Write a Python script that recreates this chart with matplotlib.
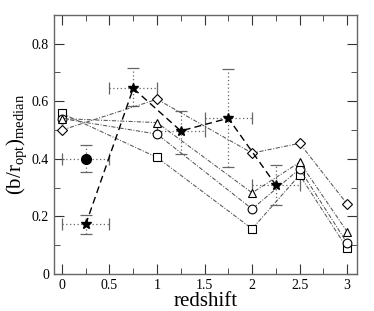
import matplotlib
matplotlib.use('Agg')
import matplotlib.pyplot as plt
import numpy as np

plt.rcParams['font.family'] = 'serif'
plt.rcParams['font.serif'] = ['Liberation Serif', 'DejaVu Serif']
plt.rcParams['mathtext.fontset'] = 'custom'
plt.rcParams['mathtext.rm'] = 'Liberation Serif'
plt.rcParams['mathtext.it'] = 'Liberation Serif:italic'

# model series at integer-ish redshifts
z_mod = [0, 1, 2, 2.5, 3]
sq = [0.558, 0.405, 0.157, 0.344, 0.089]
circ = [0.540, 0.486, 0.226, 0.365, 0.107]
tri = [0.540, 0.526, 0.282, 0.388, 0.147]
diam = [0.500, 0.607, 0.420, 0.454, 0.243]

# observed points (stars) with errors
z_obs = [0.25, 0.75, 1.25, 1.75, 2.25]
b_obs = [0.172, 0.645, 0.497, 0.541, 0.309]
xerr_obs = [0.25, 0.25, 0.25, 0.25, 0.25]
yerr_lo = [0.033, 0.063, 0.08, 0.17, 0.07]
yerr_hi = [0.033, 0.07, 0.07, 0.17, 0.07]

# single filled point
z_pt = [0.25]
b_pt = [0.40]
xerr_pt = [0.25]
yerr_pt = [0.047]

fig = plt.figure(figsize=(3.74, 3.11), dpi=100)
ax = fig.add_axes([0.144, 0.119, 0.811, 0.833])

ls_dd = (0, (4, 1.5, 1, 1.5))
lc = '#555555'
for ys, m in [(sq, 's'), (circ, 'o'), (tri, '^'), (diam, 'D')]:
    ms = 5 if m == 'D' else 6.3
    ax.plot(z_mod, ys, linestyle=ls_dd, color=lc, lw=0.75, marker=m, ms=ms,
            mfc='white', mec='black', mew=0.8, zorder=3)

ax.errorbar(z_obs, b_obs, xerr=xerr_obs, yerr=[yerr_lo, yerr_hi], fmt='none',
            ecolor='#666666', elinewidth=0.9, capsize=4, capthick=0.9, zorder=2)
ax.errorbar(z_pt, b_pt, xerr=xerr_pt, yerr=yerr_pt, fmt='none',
            ecolor='#666666', elinewidth=0.9, capsize=4, capthick=0.9, zorder=2)
for c in ax.collections:
    c.set_linestyle((0, (1, 2)))
for ln in ax.lines[4:]:
    ln.set_linestyle('none')

ax.plot(z_obs, b_obs, linestyle=(0, (5, 3)), color='black', lw=1.0,
        marker='*', ms=7, mfc='black', mec='black', zorder=4)
ax.plot(z_pt, b_pt, linestyle='none', marker='o', ms=7, color='black', zorder=4)

ax.set_xlim(-0.085, 3.105)
ax.set_ylim(0, 0.9)
ax.set_xticks([0, 0.5, 1, 1.5, 2, 2.5, 3])
ax.set_xticklabels(['0', '0.5', '1', '1.5', '2', '2.5', '3'])
ax.set_xticks(np.arange(0.25, 3.0, 0.5), minor=True)
ax.set_yticks([0, 0.2, 0.4, 0.6, 0.8])
ax.set_yticklabels(['0', '0.2', '0.4', '0.6', '0.8'])
ax.set_yticks([0.1, 0.3, 0.5, 0.7], minor=True)
ax.tick_params(which='both', direction='in', top=True, right=True,
               labelsize=10, color='#333333')
ax.tick_params(which='major', length=7)
ax.tick_params(which='minor', length=4)
for s in ax.spines.values():
    s.set_color('#666666')
    s.set_linewidth(1.0)

ax.set_xlabel('redshift', fontsize=15, labelpad=0)
ax.set_ylabel(r'(b/r$_{\rm opt}$)$_{\rm median}$', fontsize=15, labelpad=2)

fig.savefig('out.png', dpi=100)
